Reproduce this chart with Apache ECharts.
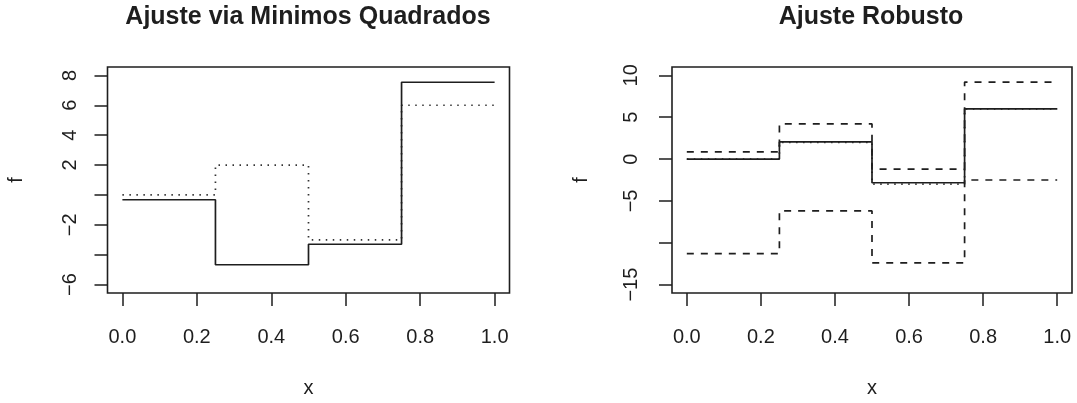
<!DOCTYPE html>
<html>
<head>
<meta charset="utf-8">
<script src="https://cdn.jsdelivr.net/npm/echarts@6/dist/echarts.min.js"></script>
<style>
  html, body { margin: 0; padding: 0; background: #ffffff; }
  #main { width: 1077px; height: 403px; }
</style>
</head>
<body>
<div id="main"></div>
<script>
// Breakpoints of the piecewise-constant functions on [0, 1]
const breaks = [0, 0.25, 0.5, 0.75, 1];
const xTicks = [0, 0.2, 0.4, 0.6, 0.8, 1];

// True step function (dotted)
const trueF = [0, 2, -3, 6];

// Least-squares panel
const lsFit = [-0.32, -4.67, -3.3, 7.54];
const lsYTicks = [-6, -4, -2, 0, 2, 4, 6, 8];
const lsYLabels = [-6, -2, 2, 4, 6, 8];

// Robust panel: fit and band
const robFit = [0, 2.05, -2.83, 6.0];
const robUpper = [0.85, 4.2, -1.2, 9.2];
const robLower = [-11.3, -6.2, -12.4, -2.5];
const robYTicks = [-15, -10, -5, 0, 5, 10];
const robYLabels = [-15, -5, 0, 5, 10];

const FONT = '"Liberation Sans", Arial, Helvetica, sans-serif';
const INK = '#1e1e1e';

// one point per breakpoint; the last segment value is held to x = 1
function steps(vals) {
  return breaks.map((b, i) => [b, vals[Math.min(i, vals.length - 1)]]);
}

function yFmt(v) {
  return v < 0 ? '\u2212' + (-v) : String(v);
}

function stepSeries(idx, vals, dash, color) {
  return {
    type: 'line',
    xAxisIndex: idx,
    yAxisIndex: idx,
    step: 'end',
    data: steps(vals),
    symbol: 'none',
    silent: true,
    lineStyle: { color: color || INK, width: 1.7, type: dash || 'solid', cap: 'butt' }
  };
}

function xAxis(idx) {
  return {
    gridIndex: idx,
    type: 'value',
    min: -0.04,
    max: 1.04,
    axisLine: { show: false, onZero: false },
    axisTick: { show: true, length: 13, customValues: xTicks, lineStyle: { color: INK, width: 1.5 } },
    axisLabel: {
      customValues: xTicks, margin: 34, fontSize: 20, fontFamily: FONT, color: INK,
      formatter: v => v.toFixed(1)
    },
    splitLine: { show: false },
    name: 'x',
    nameLocation: 'middle',
    nameGap: 85,
    nameTextStyle: { fontSize: 20, fontFamily: FONT, color: INK }
  };
}

function yAxis(idx, min, max, ticks, labels, labelMargin) {
  return {
    gridIndex: idx,
    type: 'value',
    min: min,
    max: max,
    axisLine: { show: false, onZero: false },
    axisTick: { show: true, length: 13, customValues: ticks, lineStyle: { color: INK, width: 1.5 } },
    axisLabel: {
      customValues: labels, rotate: 90, margin: labelMargin, fontSize: 20, fontFamily: FONT, color: INK,
      formatter: yFmt
    },
    splitLine: { show: false },
    name: 'f',
    nameLocation: 'middle',
    nameGap: 81,
    nameTextStyle: { fontSize: 20, fontFamily: FONT, color: INK }
  };
}

const chart = echarts.init(document.getElementById('main'), null, { renderer: 'canvas' });

chart.setOption({
  animation: false,
  backgroundColor: '#ffffff',
  title: [
    {
      text: 'Ajuste via Minimos Quadrados', left: 303, top: 0, textAlign: 'center',
      textStyle: { fontSize: 25, fontWeight: 'bold', fontFamily: FONT, color: INK }
    },
    {
      text: 'Ajuste Robusto', left: 866, top: 0, textAlign: 'center',
      textStyle: { fontSize: 25, fontWeight: 'bold', fontFamily: FONT, color: INK }
    }
  ],
  grid: [
    { left: 107.5, top: 67, width: 402, height: 228, show: true, borderColor: INK, borderWidth: 1.6, backgroundColor: 'transparent' },
    { left: 672, top: 67, width: 400, height: 228, show: true, borderColor: INK, borderWidth: 1.6, backgroundColor: 'transparent' }
  ],
  xAxis: [xAxis(0), xAxis(1)],
  yAxis: [
    yAxis(0, -6.56, 8.56, lsYTicks, lsYLabels, 27),
    yAxis(1, -16, 11, robYTicks, robYLabels, 31)
  ],
  series: [
    stepSeries(0, trueF, [1.5, 5.5], '#333'),
    stepSeries(0, lsFit),
    stepSeries(1, trueF, [1.5, 5.5], '#333'),
    stepSeries(1, robUpper, [7, 7]),
    stepSeries(1, robLower, [7, 7]),
    stepSeries(1, robFit)
  ]
});
</script>
</body>
</html>
